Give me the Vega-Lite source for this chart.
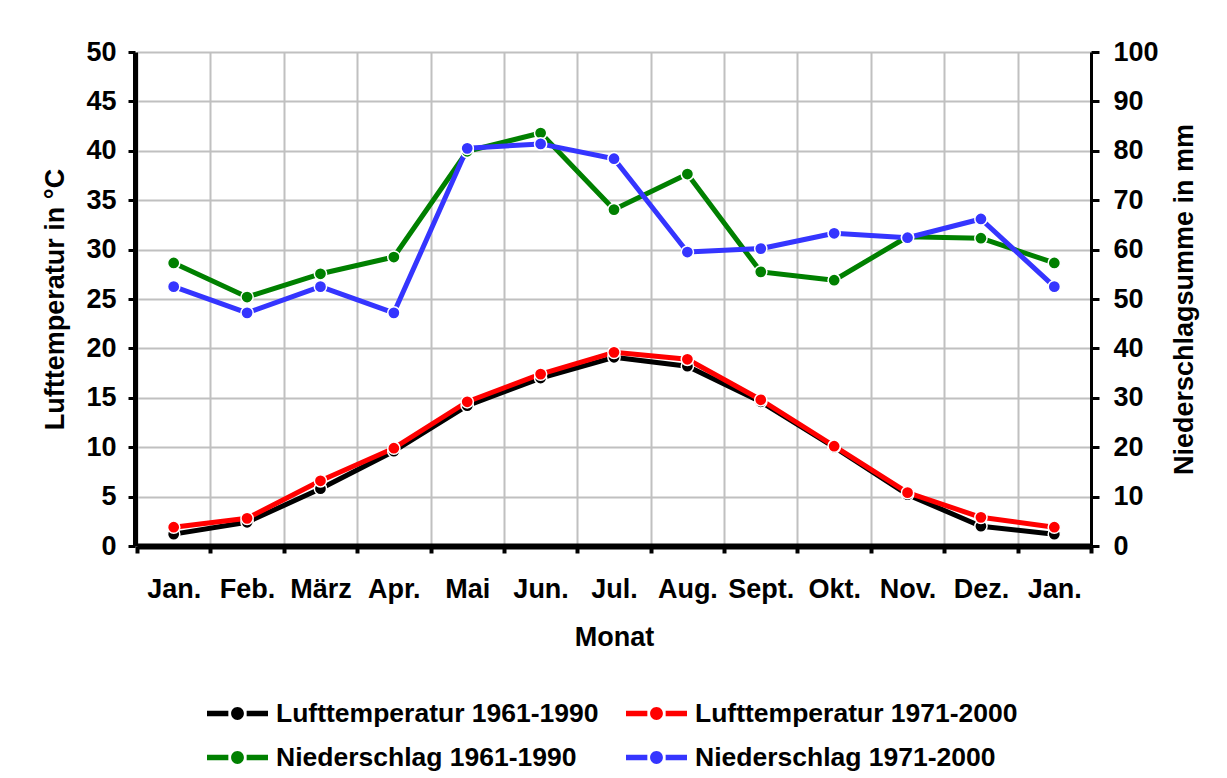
{
  "$schema": "https://vega.github.io/schema/vega-lite/v6.json",
  "width": 954,
  "height": 494,
  "autosize": {"type": "none"},
  "padding": {"left": 137, "top": 52, "right": 136, "bottom": 232},
  "background": "white",
  "config": {
    "view": {"stroke": null},
    "font": "Liberation Sans",
    "axis": {"labelFont": "Liberation Sans", "titleFont": "Liberation Sans", "labelColor": "black", "titleColor": "black", "labelFontWeight": "bold", "titleFontWeight": "bold"},
    "legend": {"labelFont": "Liberation Sans", "labelColor": "black"}
  },
  "data": {
    "values": [
      {"i": 1, "Monat": "Jan.", "Reihe": "Lufttemperatur 1961-1990", "Art": "T", "Wert": 1.2},
      {"i": 2, "Monat": "Feb.", "Reihe": "Lufttemperatur 1961-1990", "Art": "T", "Wert": 2.4},
      {"i": 3, "Monat": "März", "Reihe": "Lufttemperatur 1961-1990", "Art": "T", "Wert": 5.8},
      {"i": 4, "Monat": "Apr.", "Reihe": "Lufttemperatur 1961-1990", "Art": "T", "Wert": 9.6},
      {"i": 5, "Monat": "Mai", "Reihe": "Lufttemperatur 1961-1990", "Art": "T", "Wert": 14.2},
      {"i": 6, "Monat": "Jun.", "Reihe": "Lufttemperatur 1961-1990", "Art": "T", "Wert": 17.0},
      {"i": 7, "Monat": "Jul.", "Reihe": "Lufttemperatur 1961-1990", "Art": "T", "Wert": 19.1},
      {"i": 8, "Monat": "Aug.", "Reihe": "Lufttemperatur 1961-1990", "Art": "T", "Wert": 18.2},
      {"i": 9, "Monat": "Sept.", "Reihe": "Lufttemperatur 1961-1990", "Art": "T", "Wert": 14.6},
      {"i": 10, "Monat": "Okt.", "Reihe": "Lufttemperatur 1961-1990", "Art": "T", "Wert": 10.0},
      {"i": 11, "Monat": "Nov.", "Reihe": "Lufttemperatur 1961-1990", "Art": "T", "Wert": 5.2},
      {"i": 12, "Monat": "Dez.", "Reihe": "Lufttemperatur 1961-1990", "Art": "T", "Wert": 2.0},
      {"i": 13, "Monat": "Jan.\u200b", "Reihe": "Lufttemperatur 1961-1990", "Art": "T", "Wert": 1.2},
      {"i": 1, "Monat": "Jan.", "Reihe": "Lufttemperatur 1971-2000", "Art": "T", "Wert": 1.9},
      {"i": 2, "Monat": "Feb.", "Reihe": "Lufttemperatur 1971-2000", "Art": "T", "Wert": 2.8},
      {"i": 3, "Monat": "März", "Reihe": "Lufttemperatur 1971-2000", "Art": "T", "Wert": 6.6},
      {"i": 4, "Monat": "Apr.", "Reihe": "Lufttemperatur 1971-2000", "Art": "T", "Wert": 9.9},
      {"i": 5, "Monat": "Mai", "Reihe": "Lufttemperatur 1971-2000", "Art": "T", "Wert": 14.6},
      {"i": 6, "Monat": "Jun.", "Reihe": "Lufttemperatur 1971-2000", "Art": "T", "Wert": 17.4},
      {"i": 7, "Monat": "Jul.", "Reihe": "Lufttemperatur 1971-2000", "Art": "T", "Wert": 19.6},
      {"i": 8, "Monat": "Aug.", "Reihe": "Lufttemperatur 1971-2000", "Art": "T", "Wert": 18.9},
      {"i": 9, "Monat": "Sept.", "Reihe": "Lufttemperatur 1971-2000", "Art": "T", "Wert": 14.8},
      {"i": 10, "Monat": "Okt.", "Reihe": "Lufttemperatur 1971-2000", "Art": "T", "Wert": 10.1},
      {"i": 11, "Monat": "Nov.", "Reihe": "Lufttemperatur 1971-2000", "Art": "T", "Wert": 5.4},
      {"i": 12, "Monat": "Dez.", "Reihe": "Lufttemperatur 1971-2000", "Art": "T", "Wert": 2.9},
      {"i": 13, "Monat": "Jan.\u200b", "Reihe": "Lufttemperatur 1971-2000", "Art": "T", "Wert": 1.9},
      {"i": 1, "Monat": "Jan.", "Reihe": "Niederschlag 1961-1990", "Art": "N", "Wert": 57.3},
      {"i": 2, "Monat": "Feb.", "Reihe": "Niederschlag 1961-1990", "Art": "N", "Wert": 50.4},
      {"i": 3, "Monat": "März", "Reihe": "Niederschlag 1961-1990", "Art": "N", "Wert": 55.1},
      {"i": 4, "Monat": "Apr.", "Reihe": "Niederschlag 1961-1990", "Art": "N", "Wert": 58.5},
      {"i": 5, "Monat": "Mai", "Reihe": "Niederschlag 1961-1990", "Art": "N", "Wert": 79.9},
      {"i": 6, "Monat": "Jun.", "Reihe": "Niederschlag 1961-1990", "Art": "N", "Wert": 83.6},
      {"i": 7, "Monat": "Jul.", "Reihe": "Niederschlag 1961-1990", "Art": "N", "Wert": 68.1},
      {"i": 8, "Monat": "Aug.", "Reihe": "Niederschlag 1961-1990", "Art": "N", "Wert": 75.3},
      {"i": 9, "Monat": "Sept.", "Reihe": "Niederschlag 1961-1990", "Art": "N", "Wert": 55.5},
      {"i": 10, "Monat": "Okt.", "Reihe": "Niederschlag 1961-1990", "Art": "N", "Wert": 53.8},
      {"i": 11, "Monat": "Nov.", "Reihe": "Niederschlag 1961-1990", "Art": "N", "Wert": 62.6},
      {"i": 12, "Monat": "Dez.", "Reihe": "Niederschlag 1961-1990", "Art": "N", "Wert": 62.3},
      {"i": 13, "Monat": "Jan.\u200b", "Reihe": "Niederschlag 1961-1990", "Art": "N", "Wert": 57.3},
      {"i": 1, "Monat": "Jan.", "Reihe": "Niederschlag 1971-2000", "Art": "N", "Wert": 52.5},
      {"i": 2, "Monat": "Feb.", "Reihe": "Niederschlag 1971-2000", "Art": "N", "Wert": 47.2},
      {"i": 3, "Monat": "März", "Reihe": "Niederschlag 1971-2000", "Art": "N", "Wert": 52.5},
      {"i": 4, "Monat": "Apr.", "Reihe": "Niederschlag 1971-2000", "Art": "N", "Wert": 47.2},
      {"i": 5, "Monat": "Mai", "Reihe": "Niederschlag 1971-2000", "Art": "N", "Wert": 80.5},
      {"i": 6, "Monat": "Jun.", "Reihe": "Niederschlag 1971-2000", "Art": "N", "Wert": 81.4},
      {"i": 7, "Monat": "Jul.", "Reihe": "Niederschlag 1971-2000", "Art": "N", "Wert": 78.4},
      {"i": 8, "Monat": "Aug.", "Reihe": "Niederschlag 1971-2000", "Art": "N", "Wert": 59.5},
      {"i": 9, "Monat": "Sept.", "Reihe": "Niederschlag 1971-2000", "Art": "N", "Wert": 60.2},
      {"i": 10, "Monat": "Okt.", "Reihe": "Niederschlag 1971-2000", "Art": "N", "Wert": 63.3},
      {"i": 11, "Monat": "Nov.", "Reihe": "Niederschlag 1971-2000", "Art": "N", "Wert": 62.4},
      {"i": 12, "Monat": "Dez.", "Reihe": "Niederschlag 1971-2000", "Art": "N", "Wert": 66.2},
      {"i": 13, "Monat": "Jan.\u200b", "Reihe": "Niederschlag 1971-2000", "Art": "N", "Wert": 52.5}
    ]
  },
  "encoding": {
    "x": {
      "field": "Monat",
      "type": "ordinal",
      "sort": {"field": "i", "op": "min"},
      "scale": {"type": "band", "paddingInner": 0, "paddingOuter": 0},
      "axis": {
        "title": "Monat",
        "tickBand": "extent",
        "grid": true,
        "gridColor": "#c0c0c0",
        "gridWidth": 2,
        "domainColor": "black",
        "domainWidth": 6,
        "tickColor": "black",
        "tickWidth": 4,
        "tickSize": 7,
        "labelAngle": 0,
        "labelPadding": 23,
        "labelFontSize": 27,
        "titleFontSize": 27,
        "titlePadding": 22
      }
    },
    "color": {
      "field": "Reihe",
      "type": "nominal",
      "scale": {
        "domain": ["Lufttemperatur 1961-1990", "Lufttemperatur 1971-2000", "Niederschlag 1961-1990", "Niederschlag 1971-2000"],
        "range": ["#000000", "#ff0000", "#008000", "#3535ff"]
      },
      "legend": {
        "title": null,
        "orient": "none",
        "legendX": 70,
        "legendY": 631,
        "direction": "horizontal",
        "columns": 2,
        "columnPadding": 27,
        "rowPadding": -7,
        "labelFontSize": 26.5,
        "labelFontWeight": "bold",
        "labelLimit": 600,
        "labelOffset": 8,
        "symbolType": "M-1,-0.09H-0.3V0.09H-1Z M0.3,-0.09H1V0.09H0.3Z M-0.21,0A0.21,0.21,0,1,0,0.21,0A0.21,0.21,0,1,0,-0.21,0Z",
        "symbolSize": 3721,
        "symbolStrokeWidth": 0,
        "encode": {
          "symbols": {
            "update": {
              "fill": {"scale": "color", "field": "value"},
              "stroke": {"value": "transparent"},
              "strokeWidth": {"value": 0},
              "shape": {"value": "M-1,-0.09H-0.3V0.09H-1Z M0.3,-0.09H1V0.09H0.3Z M-0.21,0A0.21,0.21,0,1,0,0.21,0A0.21,0.21,0,1,0,-0.21,0Z"},
              "size": {"value": 3721}
            }
          }
        }
      }
    }
  },
  "layer": [
    {
      "transform": [{"filter": "datum.Art == 'T'"}],
      "mark": {"type": "line", "strokeWidth": 5, "strokeJoin": "round", "point": {"filled": true, "size": 150, "stroke": "white", "strokeWidth": 1.5}},
      "encoding": {
        "y": {
          "field": "Wert",
          "type": "quantitative",
          "scale": {"domain": [0, 50], "nice": false, "zero": true},
          "axis": {
            "orient": "left",
            "title": "Lufttemperatur in °C",
            "values": [0, 5, 10, 15, 20, 25, 30, 35, 40, 45, 50],
            "grid": true,
            "gridColor": "#c0c0c0",
            "gridWidth": 2,
            "offset": 2,
            "domainColor": "black",
            "domainWidth": 5,
            "tickColor": "black",
            "tickWidth": 3,
            "tickSize": 7,
            "labelPadding": 12,
            "labelFontSize": 27,
            "titleFontSize": 27,
            "titlePadding": 16
          }
        }
      }
    },
    {
      "transform": [{"filter": "datum.Art == 'N'"}],
      "mark": {"type": "line", "strokeWidth": 5, "strokeJoin": "round", "point": {"filled": true, "size": 150, "stroke": "white", "strokeWidth": 1.5}},
      "encoding": {
        "y": {
          "field": "Wert",
          "type": "quantitative",
          "scale": {"domain": [0, 100], "nice": false, "zero": true},
          "axis": {
            "orient": "right",
            "title": "Niederschlagsumme in mm",
            "values": [0, 10, 20, 30, 40, 50, 60, 70, 80, 90, 100],
            "grid": false,
            "domainColor": "black",
            "domainWidth": 3,
            "tickColor": "black",
            "tickWidth": 3,
            "tickSize": 8,
            "labelPadding": 14,
            "labelFontSize": 27,
            "titleFontSize": 27,
            "titleAngle": 270,
            "titlePadding": 40
          }
        }
      }
    }
  ],
  "resolve": {"scale": {"y": "independent"}}
}
